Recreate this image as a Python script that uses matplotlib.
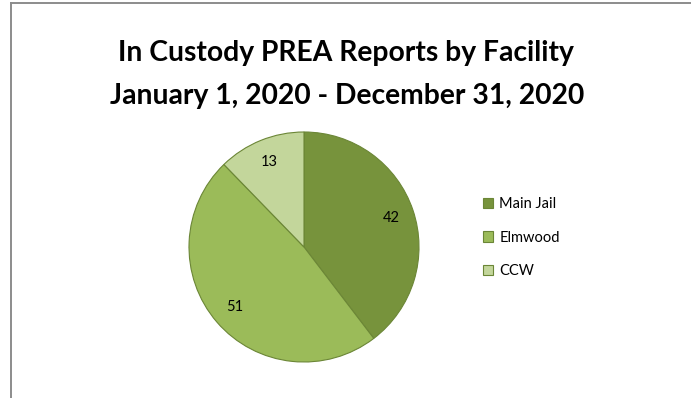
import matplotlib.pyplot as plt
from matplotlib.lines import Line2D
from matplotlib.patches import Patch

# PREA reports per facility, 2020
facilities = ["Main Jail", "Elmwood", "CCW"]
reports = [42, 51, 13]
colors = ["#77933c", "#9bbb59", "#c3d69b"]

W, H = 691, 398
fig = plt.figure(figsize=(W / 100, H / 100), dpi=100)
fig.patch.set_facecolor("white")

# chart area border (left and top edges visible)
fig.add_artist(Line2D([10.5 / W, 10.5 / W], [0, 1 - 2.5 / H], color="#8c8c8c", lw=1.4))
fig.add_artist(Line2D([10.5 / W, 1], [1 - 2.5 / H, 1 - 2.5 / H], color="#8c8c8c", lw=1.4))

title_font = dict(family="Lato", weight="bold", fontsize=20.3, color="black")
fig.text(0.5, 1 - 53 / H, "In Custody PREA Reports by Facility", ha="center", va="center", **title_font)
fig.text(0.502, 1 - 96 / H, "January 1, 2020 - December 31, 2020", ha="center", va="center", **title_font)

# pie centered near (304, 247) px, radius ~115 px
cx, cy, half = 304, 247, 120
ax = fig.add_axes([(cx - half) / W, (H - cy - half) / H, 2 * half / W, 2 * half / H])
total = sum(reports)
wedges, texts, autotexts = ax.pie(
    reports, colors=colors, startangle=90, counterclock=False,
    autopct=lambda p: "%d" % round(p * total / 100), pctdistance=0.8,
    wedgeprops=dict(edgecolor="#6b8636", linewidth=0.8),
    textprops=dict(family="Lato", fontsize=10.5, color="black"))
lim = half / 115
ax.set_xlim(-lim, lim)
ax.set_ylim(-lim, lim)
ax.set_aspect("equal")

handles = [Patch(facecolor=c, edgecolor="#6b8636", linewidth=0.8) for c in colors]
fig.legend(handles, facilities, loc="upper left", bbox_to_anchor=(470 / W, 1 - 184 / H),
           frameon=False, handlelength=0.7, handleheight=0.7, handletextpad=0.4,
           labelspacing=1.33, prop=dict(family="Lato", size=10.5))

fig.savefig("out.png", dpi=100)
